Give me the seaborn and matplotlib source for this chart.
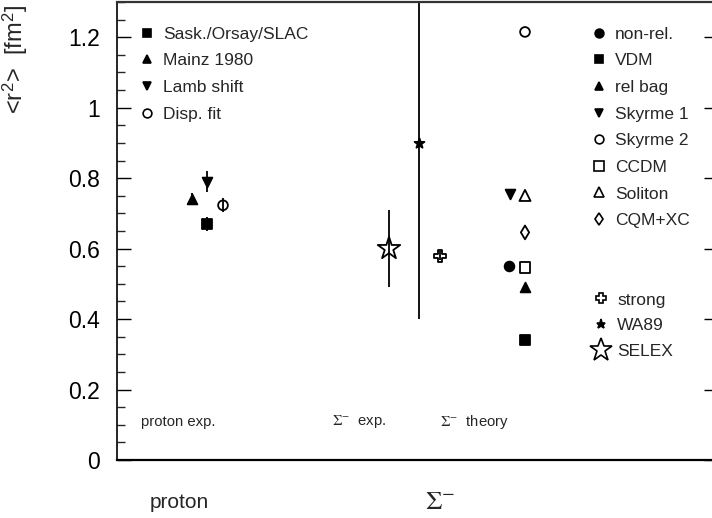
import numpy as np
import pandas as pd
import matplotlib
matplotlib.use("Agg")
import matplotlib.pyplot as plt
from matplotlib.lines import Line2D
from matplotlib.ticker import MultipleLocator, FixedLocator
import seaborn as sns

# ---------------- data ----------------
proton_labels = ["Sask./Orsay/SLAC", "Mainz 1980", "Lamb shift", "Disp. fit"]
proton_x = [0.90, 0.75, 0.90, 1.06]
proton_r2 = [0.670, 0.742, 0.790, 0.723]
proton_err = [0.020, 0.015, 0.030, 0.020]

sigma_exp_labels = ["strong", "WA89", "SELEX"]
sigma_exp_x = [3.23, 3.02, 2.72]
sigma_exp_r2 = [0.580, 0.900, 0.600]
sigma_exp_err = [0.012, 0.500, 0.110]

theory_labels = ["non-rel.", "VDM", "rel bag", "Skyrme 1", "Skyrme 2",
                 "CCDM", "Soliton", "CQM+XC"]
theory_x = [3.92, 4.08, 4.08, 3.93, 4.08, 4.08, 4.08, 4.08]
theory_r2 = [0.550, 0.341, 0.492, 0.754, 1.215, 0.546, 0.751, 0.646]

group_texts = ["proton exp.", r"$\Sigma^{-}$  exp.", r"$\Sigma^{-}$  theory"]
group_text_x = [0.24, 2.15, 3.23]
particle_texts = ["proton", r"$\Sigma^{-}$"]
particle_text_x = [0.33, 3.08]
particle_text_size = [15, 19]

yticks = [0, 0.2, 0.4, 0.6, 0.8, 1.0, 1.2]
ytick_labels = ["0", "0.2", "0.4", "0.6", "0.8", "1", "1.2"]

# ---------------- styles ----------------
# (marker, filled, size)
styles = {
    "Sask./Orsay/SLAC": ("s", True, 6.5),
    "Mainz 1980": ("^", True, 7),
    "Lamb shift": ("v", True, 7),
    "Disp. fit": ("o", False, 7),
    "strong": ("P", False, 8.5),
    "WA89": ("*", True, 7.5),
    "SELEX": ("*", False, 17),
    "non-rel.": ("o", True, 7),
    "VDM": ("s", True, 7),
    "rel bag": ("^", True, 7),
    "Skyrme 1": ("v", True, 7),
    "Skyrme 2": ("o", False, 7),
    "CCDM": ("s", False, 7.5),
    "Soliton": ("^", False, 8),
    "CQM+XC": ("d", False, 7),
}

sns.set_theme(style="ticks")
plt.rcParams["font.family"] = ["Liberation Sans", "DejaVu Sans"]
plt.rcParams["mathtext.fontset"] = "stix"

fig = plt.figure(figsize=(7.12, 5.18), dpi=100)
W, H = 712.0, 518.0
ax_l, ax_r, ax_b, ax_t = 117, 718, 460, 2
ax = fig.add_axes([ax_l / W, (H - ax_b) / H, (ax_r - ax_l) / W, (ax_b - ax_t) / H])

ax.set_xlim(0, (ax_r - ax_l) / 100.0)
ax.set_ylim(0, 1.3)

def draw(labels, xs, ys, errs=None):
    df = pd.DataFrame({"x": xs, "y": ys, "label": labels})
    if errs is not None:
        ax.errorbar(xs, ys, yerr=errs, fmt="none", ecolor="black",
                    elinewidth=1.3, capsize=0, zorder=2)
    for _, row in df.iterrows():
        m, filled, ms = styles[row["label"]]
        sub = df[df["label"] == row["label"]]
        sns.scatterplot(data=sub, x="x", y="y", marker=m,
                        s=(ms ** 2), color="black" if filled else "none",
                        edgecolor="black", linewidth=1.3, ax=ax,
                        legend=False, zorder=3)

draw(proton_labels, proton_x, proton_r2, proton_err)
draw(sigma_exp_labels, sigma_exp_x, sigma_exp_r2, sigma_exp_err)
draw(theory_labels, theory_x, theory_r2)

def handles(labels):
    hs = []
    for lab in labels:
        m, filled, ms = styles[lab]
        ms = ms * 0.9 if lab != "SELEX" else ms
        hs.append(Line2D([], [], linestyle="none", marker=m, markersize=ms,
                         markerfacecolor="black" if filled else "none",
                         markeredgecolor="black", markeredgewidth=1.2, label=lab))
    return hs

leg_kw = dict(frameon=False, fontsize=12.5, handlelength=1.0, handletextpad=0.42,
              borderpad=0, borderaxespad=0, loc="upper left", labelspacing=0.66)
leg1 = ax.legend(handles=handles(proton_labels), bbox_to_anchor=(0.0355, 0.946), **leg_kw)
ax.add_artist(leg1)
leg2 = ax.legend(handles=handles(theory_labels), bbox_to_anchor=(0.7875, 0.946), **leg_kw)
ax.add_artist(leg2)
leg3 = ax.legend(handles=handles(sigma_exp_labels), bbox_to_anchor=(0.791, 0.366),
                 **{**leg_kw, "labelspacing": 0.6})

for t, x in zip(group_texts, group_text_x):
    ax.text(x, 0.108, t, fontsize=10.7, ha="left", va="center")
for t, x, fs in zip(particle_texts, particle_text_x, particle_text_size):
    ax.text(x, -0.12, t, fontsize=fs, ha="left", va="center", clip_on=False)

ax.yaxis.set_major_locator(FixedLocator(yticks))
ax.set_yticklabels(ytick_labels)
ax.yaxis.set_minor_locator(MultipleLocator(0.05))
ax.set_xticks([])
ax.tick_params(axis="y", which="major", direction="in", length=10, width=1.0,
               labelsize=16.5, pad=12, right=True, colors="black")
ax.tick_params(axis="y", which="minor", direction="in", length=6, width=1.0, right=False)
ax.tick_params(axis="x", which="both", bottom=False, top=False)

for s in ax.spines.values():
    s.set_color("black")
    s.set_linewidth(1.2)
ax.spines["bottom"].set_linewidth(1.6)
ax.spines["top"].set_linewidth(1.6)
ax.spines["top"].set_color("#333333")

ax.set_xlabel("")
ax.set_ylabel(r"<r$^{\mathregular{2}}$>  [fm$^{\mathregular{2}}$]", fontsize=17, loc="top")
ax.yaxis.set_label_coords(-0.145, 0.995)

fig.savefig("out.png", dpi=100)
